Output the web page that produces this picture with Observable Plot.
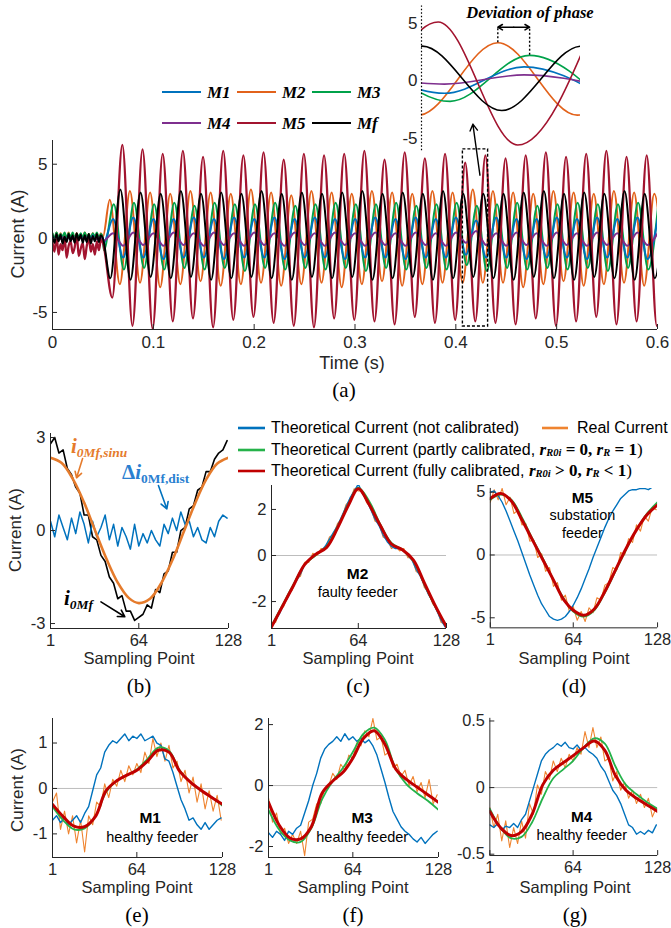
<!DOCTYPE html>
<html lang="en">
<head>
<meta charset="utf-8">
<title>Zero-sequence current waveforms</title>
<script src="https://cdn.jsdelivr.net/npm/d3@7"></script>
<script src="https://cdn.jsdelivr.net/npm/@observablehq/plot@0.6"></script>
<style>
  html, body { margin: 0; padding: 0; background: #fff; }
  #fig { position: relative; width: 671px; height: 928px; overflow: hidden; background: #fff;
         font-family: "Liberation Sans", Arial, Helvetica, sans-serif; color: #262626; }
  .abs { position: absolute; white-space: nowrap; line-height: 1; }
  .c { transform: translate(-50%, -50%); }
  .l { transform: translate(0, -50%); }
  .rot { transform: translate(-50%, -50%) rotate(-90deg); }
  .serif { font-family: "Liberation Serif", "Times New Roman", Times, serif; color: #000; }
  .bi { font-family: "Liberation Serif", "Times New Roman", Times, serif; font-weight: bold; font-style: italic; color: #000; }
  .sub { font-size: 0.64em; position: relative; top: 0.3em; }
  .math { font-family: "Liberation Serif", "Times New Roman", Times, serif; font-weight: bold; font-size: 17px; color: #000; line-height: 16px; }
  .math i { font-style: italic; }
  .msub { font-size: 0.62em; vertical-align: -0.15em; line-height: 10px; }
  .paren { font-family: "Liberation Serif", "Times New Roman", Times, serif; font-size: 17px; color: #000; line-height: 16px; }
</style>
</head>
<body>
<div id="fig"></div>
<script>
// ---------------------------------------------------------------------------
// (a) zero-sequence currents of the feeders, 0 – 0.6 s
// ---------------------------------------------------------------------------
const seriesNames = ["M1", "M2", "M3", "M4", "M5", "Mf"];
const seriesColors = ["#0072BD", "#E2621B", "#00A24A", "#7E2F8E", "#A2142F", "#000000"];
const timeTicks = [0, 0.1, 0.2, 0.3, 0.4, 0.5, 0.6];
const currentTicks = [-5, 0, 5];

// pre-fault samples, every 2 ms from 0 to 0.05 s
const preStep = 0.002;
const preM1 = [0.1, -0.2, 0.2, -0.1, 0.15, -0.2, 0.1, -0.15, 0.2, -0.1, 0.1, -0.2, 0.15, -0.1, 0.2, -0.15, 0.1, -0.2, 0.15, -0.1, 0.2, -0.15, 0.1, -0.2, 0.15, 0.0];
const preM2 = [0.3, -0.1, 0.4, 0.0, 0.35, -0.1, 0.3, 0.05, 0.4, -0.05, 0.3, 0.0, 0.35, -0.1, 0.3, 0.05, 0.4, 0.0, 0.3, -0.05, 0.35, 0.0, 0.3, -0.1, 0.35, 0.1];
const preM3 = [0.35, 0.0, 0.4, 0.05, 0.3, 0.1, 0.4, 0.0, 0.35, 0.05, 0.4, 0.0, 0.3, 0.1, 0.35, 0.0, 0.4, 0.05, 0.3, 0.0, 0.35, 0.1, 0.4, 0.0, 0.3, 0.0];
const preM4 = [0.0, -0.05, 0.05, 0.0, -0.05, 0.05, 0.0, -0.05, 0.05, 0.0, -0.05, 0.05, 0.0, -0.05, 0.05, 0.0, -0.05, 0.05, 0.0, -0.05, 0.05, 0.0, -0.05, 0.05, 0.0, 0.0];
const preM5 = [-0.3, -0.9, 0.2, -1.1, -0.4, -0.8, 0.1, -1.3, -0.5, -0.2, -1.0, -0.6, 0.3, -1.2, -0.7, -0.3, -1.4, -0.5, 0.0, -0.9, -0.4, -1.1, -0.2, -0.8, -0.1, -0.3];
const preMf = [0.2, -0.3, 0.3, -0.2, 0.25, -0.35, 0.1, -0.25, 0.3, -0.2, 0.2, -0.3, 0.35, -0.15, 0.25, -0.3, 0.2, -0.25, 0.3, -0.35, 0.15, -0.2, 0.3, -0.25, 0.2, 0.0];

// post-fault: successive peaks and troughs (half a 50 Hz cycle apart)
const halfPeriod = 0.01;
const firstExtremum = [0.0501, 0.0568, 0.0508, 0.0501, 0.0593, 0.0573];
const extM1 = [
  -0.4, 1.3, -1.3, 1.4, -1.3, 1.3, -1.4, 1.3, -1.3, 1.4,
  -1.3, 1.3, -1.4, 1.4, -1.3, 1.3, -1.3, 1.4, -1.4, 1.3,
  -1.3, 1.4, -1.3, 1.3, -1.4, 1.3, -1.3, 1.4, -1.3, 1.3,
  -1.4, 1.4, -1.3, 1.3, -1.3, 1.4, -1.1, 1.2, -1.3, 1.4,
  -1.3, 1.3, -1.4, 1.3, -1.3, 1.4, -1.3, 1.3, -1.4, 1.4,
  -1.3, 1.3, -1.3, 1.4, -1.4, 1.3];
const extM2 = [
  2.6, -3.1, 3.2, -3.0, 3.1, -3.3, 3.0, -3.1, 3.2, -2.9,
  3.1, -3.2, 3.0, -3.1, 3.3, -3.0, 3.1, -3.2, 2.9, -3.1,
  3.2, -3.0, 3.1, -3.3, 3.0, -3.1, 3.2, -2.9, 3.1, -3.2,
  3.0, -3.1, 3.2, -3.0, 3.1, -3.0, 3.3, -3.0, 3.2, -3.0,
  3.1, -3.3, 3.0, -3.1, 3.2, -2.9, 3.1, -3.2, 3.0, -3.1,
  3.2, -3.0, 3.1, -3.2, 3.0, -3.1];
const extM3 = [
  -0.8, 2.3, -2.1, 2.4, -2.0, 2.3, -2.1, 2.4, -2.0, 2.2,
  -2.1, 2.4, -2.0, 2.3, -2.2, 2.3, -2.0, 2.4, -2.1, 2.2,
  -2.0, 2.3, -2.1, 2.4, -2.0, 2.3, -2.2, 2.3, -2.0, 2.4,
  -2.1, 2.2, -2.0, 2.3, -2.1, 2.4, -1.8, 2.2, -2.2, 2.3,
  -2.0, 2.4, -2.1, 2.2, -2.0, 2.3, -2.1, 2.4, -2.0, 2.3,
  -2.2, 2.3, -2.0, 2.4, -2.1, 2.3];
const extM4 = [
  -0.2, 0.35, -0.5, 0.4, -0.45, 0.35, -0.5, 0.4, -0.45, 0.35,
  -0.5, 0.4, -0.45, 0.35, -0.5, 0.4, -0.45, 0.35, -0.5, 0.4,
  -0.45, 0.35, -0.5, 0.4, -0.45, 0.35, -0.5, 0.4, -0.45, 0.35,
  -0.5, 0.4, -0.45, 0.35, -0.5, 0.4, -0.3, 0.5, -0.45, 0.35,
  -0.5, 0.4, -0.45, 0.35, -0.5, 0.4, -0.45, 0.35, -0.5, 0.4,
  -0.45, 0.35, -0.5, 0.4, -0.45, 0.35];
const extM5 = [
  -4.0, 6.3, -5.9, 6.0, -6.1, 5.7, -5.6, 5.9, -5.4, 5.5,
  -6.0, 5.9, -5.5, 5.6, -5.3, 5.8, -5.7, 5.3, -5.9, 5.7,
  -6.0, 5.6, -5.4, 5.7, -5.5, 5.9, -5.6, 5.3, -5.8, 5.8,
  -5.3, 5.4, -5.7, 5.7, -5.5, 5.1, -5.6, 5.6, -5.7, 5.4,
  -5.8, 5.6, -5.4, 5.8, -5.9, 5.5, -5.6, 5.7, -5.3, 5.9,
  -5.8, 5.5, -5.6, 5.6, -5.9, 5.4];
const extMf = [
  -2.7, 3.3, -2.8, 3.1, -2.6, 3.0, -2.7, 3.2, -2.6, 3.0,
  -2.8, 3.1, -2.7, 3.0, -2.6, 3.2, -2.7, 3.0, -2.8, 3.1,
  -2.6, 3.0, -2.7, 3.1, -2.6, 3.2, -2.8, 3.0, -2.7, 3.1,
  -2.6, 3.0, -2.8, 3.2, -2.7, 3.0, -2.6, 3.0, -2.7, 3.0,
  -2.8, 3.1, -2.6, 3.2, -2.7, 3.0, -2.8, 3.1, -2.6, 3.0,
  -2.7, 3.2, -2.8, 3.0, -2.7, 3.1];

// zoomed window shown in the inset, and the phase-shift pair marked there
const zoomWindow = [0.407, 0.432];
const insetWindow = [0.4072, 0.4272];

// ---------------------------------------------------------------------------
// (b)–(g) one cycle, 128 sampling points
// ---------------------------------------------------------------------------
const sampleTicks = [1, 64, 128];
const sampleCoarse = [1, 9, 17, 25, 33, 41, 49, 57, 64, 72, 80, 88, 96, 104, 112, 120, 128];

// (b) faulty-feeder current, its sinusoidal part and the distortion
const bTotal = [2.8, 3.0, 2.5, 2.6, 2.0, 1.8, 1.4, 1.2, 0.5, 0.5,
  -0.2, -0.3, -0.8, -1.0, -1.5, -1.7, -2.2, -2.1, -2.6, -2.6,
  -2.9, -2.8, -2.7, -2.4, -2.5, -1.9, -2.0, -1.4, -1.3, -0.7,
  -0.7, 0.0, 0.1, 0.7, 0.8, 1.3, 1.4, 1.9, 1.9, 2.3,
  2.5, 2.6, 2.9];
const bSinu = [2.35, 2.18, 1.66, 0.9, -0.02, -0.92, -1.68, -2.18, -2.34, -2.2, -1.7, -0.95, -0.05, 0.86, 1.64, 2.16, 2.35];
const bDist = [0.3, -0.2, 0.5, 0.1, -0.3, 0.4, -0.1, 0.6, 0.2, -0.4,
  0.3, -0.2, 0.1, 0.5, -0.3, 0.2, -0.5, 0.1, -0.2, -0.6,
  0.2, -0.5, -0.1, -0.4, 0.0, -0.3, -0.5, 0.2, -0.1, 0.4,
  0.0, 0.6, 0.2, 0.3, -0.2, 0.1, -0.3, -0.4, 0.1, -0.2,
  0.3, 0.5, 0.4];

// (c) M2, faulty feeder
const cNotCal = [-3.1, -2.8, -2.5, -2.1, -1.8, -1.4, -1.1, -0.8, -0.4, -0.2,
  0.0, 0.1, 0.2, 0.4, 0.7, 1.0, 1.3, 1.7, 2.1, 2.5,
  2.8, 3.1, 2.7, 2.4, 2.0, 1.6, 1.3, 0.9, 0.6, 0.4,
  0.3, 0.3, 0.2, 0.0, -0.2, -0.6, -0.9, -1.3, -1.7, -2.0,
  -2.4, -2.8, -3.1];
const cReal = [-3.0, -2.9, -2.4, -2.2, -1.7, -1.5, -1.0, -0.9, -0.3, -0.3,
  0.1, 0.0, 0.3, 0.3, 0.8, 0.9, 1.4, 1.6, 2.2, 2.4,
  2.9, 2.8, 2.8, 2.3, 2.1, 1.5, 1.4, 0.8, 0.7, 0.3,
  0.4, 0.2, 0.3, -0.1, -0.1, -0.7, -0.8, -1.4, -1.6, -2.1,
  -2.3, -2.9, -3.0];
const cPartly = [-3.05, -2.15, -1.25, -0.4, 0.0, 0.4, 1.25, 2.25, 2.95, 2.35, 1.35, 0.55, 0.25, -0.25, -1.25, -2.25, -3.05];
const cFully = [-3.1, -2.2, -1.3, -0.4, 0.05, 0.35, 1.2, 2.2, 2.9, 2.2, 1.3, 0.5, 0.25, -0.2, -1.2, -2.2, -3.1];

// (d) M5, substation feeder
const dNotCal = [5.0, 5.1, 4.7, 4.2, 3.5, 2.7, 1.9, 1.1, 0.2, -0.7,
  -1.6, -2.4, -3.2, -3.9, -4.4, -4.9, -5.1, -5.2, -5.1, -4.9,
  -4.5, -4.0, -3.4, -2.7, -1.9, -1.1, -0.2, 0.6, 1.4, 2.2,
  2.9, 3.5, 4.0, 4.5, 4.8, 5.1, 5.2, 5.2, 5.3, 5.3,
  5.2, 5.4, 5.5];
const dReal = [4.2, 5.2, 4.4, 5.3, 4.0, 4.6, 3.3, 3.6, 2.4, 2.5,
  1.1, 1.2, -0.2, 0.1, -1.3, -1.0, -2.5, -2.2, -3.6, -3.2,
  -4.5, -4.1, -5.2, -4.5, -5.3, -4.2, -4.6, -3.4, -3.6, -2.4,
  -2.2, -1.0, -1.2, 0.2, 0.0, 1.3, 1.0, 2.4, 1.9, 3.1,
  2.7, 3.8, 3.6];
const dPartly = [4.4, 4.8, 4.4, 3.0, 1.3, -0.3, -2.0, -3.5, -4.5, -4.9, -4.4, -3.0, -1.3, 0.4, 2.0, 3.3, 4.2];
const dFully = [4.5, 4.9, 4.3, 2.8, 1.2, -0.4, -2.0, -3.6, -4.4, -4.8, -4.3, -2.9, -1.2, 0.5, 2.0, 3.2, 4.0];

// (e) M1, healthy feeder
const eNotCal = [-0.7, -0.6, -0.75, -0.65, -0.8, -0.7, -0.6, -0.75, -0.55, -0.4,
  -0.05, 0.3, 0.45, 0.8, 0.95, 1.05, 1.0, 1.1, 1.2, 1.05,
  1.15, 1.1, 1.2, 1.05, 1.1, 1.15, 1.0, 0.95, 0.65, 0.6,
  0.35, 0.05, -0.25, -0.45, -0.7, -0.65, -0.8, -0.9, -0.75, -0.9,
  -0.8, -0.7, -0.65];
const eReal = [-0.3, -0.1, -0.9, -0.5, -1.0, -0.6, -1.2, -0.7, -1.4, -0.6,
  -0.8, -0.3, -0.4, 0.1, -0.2, 0.2, 0.05, 0.4, 0.15, 0.5,
  0.3, 0.55, 0.35, 0.8, 0.55, 1.1, 0.7, 1.0, 0.6, 0.95,
  0.45, 0.6, 0.15, 0.4, -0.1, 0.25, -0.3, 0.1, -0.45, -0.05,
  -0.5, -0.15, -0.7];
const ePartly = [-0.4, -0.7, -0.9, -0.88, -0.62, -0.08, 0.17, 0.3, 0.42, 0.65, 0.9, 0.83, 0.4, 0.14, -0.05, -0.2, -0.38];
const eFully = [-0.35, -0.62, -0.83, -0.84, -0.62, -0.05, 0.17, 0.3, 0.4, 0.6, 0.84, 0.8, 0.38, 0.14, -0.04, -0.2, -0.35];

// (f) M3, healthy feeder
const fNotCal = [-1.55, -1.7, -1.5, -1.6, -1.8, -1.5, -1.6, -1.4, -1.3, -0.9,
  -0.5, 0.0, 0.4, 0.9, 1.2, 1.35, 1.45, 1.6, 1.45, 1.7,
  1.5, 1.6, 1.45, 1.55, 1.4, 1.5, 1.3, 1.0, 0.55, 0.1,
  -0.4, -0.85, -1.1, -1.35, -1.5, -1.6, -1.75, -1.85, -1.7, -1.9,
  -1.75, -1.6, -1.5];
const fReal = [-0.4, -1.2, -0.9, -1.6, -1.4, -1.9, -1.6, -1.9, -1.5, -2.3,
  -1.2, -1.1, -0.6, -0.6, -0.1, 0.0, 0.4, 0.2, 0.7, 0.5,
  1.0, 0.9, 1.4, 1.3, 1.8, 1.6, 2.2, 1.5, 1.6, 1.0,
  1.1, 0.6, 0.7, 0.3, 0.5, 0.0, 0.3, -0.2, 0.1, -0.4,
  0.2, -0.6, -0.3];
const fPartly = [-0.8, -1.45, -1.8, -1.85, -1.4, -0.45, 0.15, 0.6, 1.1, 1.7, 1.9, 1.5, 0.55, 0.05, -0.25, -0.5, -0.8];
const fFully = [-0.55, -1.3, -1.72, -1.75, -1.35, -0.25, 0.15, 0.45, 0.9, 1.55, 1.8, 1.35, 0.55, 0.2, -0.05, -0.3, -0.55];

// (g) M4, healthy feeder
const gNotCal = [-0.28, -0.3, -0.27, -0.32, -0.29, -0.3, -0.27, -0.3, -0.24, -0.2,
  -0.1, 0.0, 0.1, 0.2, 0.25, 0.28, 0.3, 0.33, 0.31, 0.34,
  0.3, 0.29, 0.32, 0.28, 0.3, 0.27, 0.25, 0.22, 0.16, 0.12,
  0.05, -0.02, -0.06, -0.12, -0.2, -0.28, -0.3, -0.35, -0.33, -0.35,
  -0.32, -0.34, -0.28];
const gReal = [-0.15, -0.3, -0.2, -0.4, -0.25, -0.45, -0.3, -0.42, -0.25, -0.38,
  -0.12, -0.2, 0.02, -0.05, 0.12, 0.06, 0.2, 0.12, 0.22, 0.15,
  0.25, 0.2, 0.3, 0.25, 0.42, 0.3, 0.45, 0.3, 0.38, 0.2,
  0.22, 0.05, 0.12, -0.02, 0.04, -0.08, -0.02, -0.12, -0.05, -0.15,
  -0.08, -0.22, -0.15];
const gPartly = [-0.16, -0.3, -0.38, -0.37, -0.26, -0.08, 0.07, 0.14, 0.2, 0.3, 0.37, 0.33, 0.16, 0.02, -0.05, -0.11, -0.16];
const gFully = [-0.18, -0.3, -0.36, -0.33, -0.2, 0.02, 0.13, 0.19, 0.24, 0.3, 0.35, 0.28, 0.09, -0.02, -0.08, -0.13, -0.18];

// ---------------------------------------------------------------------------
const fig = document.getElementById("fig");
const AX = "#262626";
const SANS = "Liberation Sans, Arial, Helvetica, sans-serif";
const C_BLUE = "#0072BD", C_ORANGE = "#EF8430", C_GREEN = "#25B24A", C_RED = "#C00000";

function place(node, left, top) {
  const holder = document.createElement("div");
  holder.className = "abs";
  holder.style.left = left + "px";
  holder.style.top = top + "px";
  holder.appendChild(node);
  fig.appendChild(holder);
}
function text(html, x, y, cls, css = {}) {
  const el = document.createElement("div");
  el.className = "abs " + cls;
  el.style.left = x + "px";
  el.style.top = y + "px";
  Object.assign(el.style, css);
  el.innerHTML = html;
  fig.appendChild(el);
  return el;
}
function swatch(x1, x2, y, color, w) {
  const ns = "http://www.w3.org/2000/svg";
  const s = document.createElementNS(ns, "svg");
  s.setAttribute("width", x2 - x1);
  s.setAttribute("height", 8);
  Object.assign(s.style, {position: "absolute", left: x1 + "px", top: (y - 4) + "px"});
  const ln = document.createElementNS(ns, "line");
  ln.setAttribute("x1", 0); ln.setAttribute("x2", x2 - x1);
  ln.setAttribute("y1", 4); ln.setAttribute("y2", 4);
  ln.setAttribute("stroke", color); ln.setAttribute("stroke-width", w);
  s.appendChild(ln);
  fig.appendChild(s);
}
// MATLAB-like axes: left and bottom lines with inward ticks
function axesMarks({xTicks, yTicks, xMin, yMin, fw, fh, fontSize, padX = 6, padY = 5}) {
  return [
    Plot.ruleX([xMin], {stroke: AX, strokeWidth: 1}),
    Plot.ruleY([yMin], {stroke: AX, strokeWidth: 1}),
    Plot.tickX(xTicks, {x: d => d, stroke: AX, insetTop: fh - 5}),
    Plot.tickY(yTicks, {y: d => d, stroke: AX, insetRight: fw - 5}),
    Plot.axisX(xTicks, {tickSize: 0, tickPadding: padX, tickFormat: d => String(d), label: null, fontSize}),
    Plot.axisY(yTicks, {tickSize: 0, tickPadding: padY, tickFormat: d => String(d), label: null, fontSize})
  ];
}
const plotStyle = {background: "transparent", overflow: "visible", fontFamily: SANS, color: AX};

// ---- (a) main time plot ----------------------------------------------------
const preFault = [preM1, preM2, preM3, preM4, preM5, preMf];
const extrema = [extM1, extM2, extM3, extM4, extM5, extMf];
const waves = {};
seriesNames.forEach((name, k) => {
  const rows = preFault[k].map((v, i) => ({t: i * preStep, v}));
  extrema[k].forEach((v, i) => rows.push({t: firstExtremum[k] + i * halfPeriod, v}));
  waves[name] = {rows, color: seriesColors[k]};
});
const drawOrder = ["M2", "M3", "M1", "M4", "M5", "Mf"];

{
  const x0 = 52, x1 = 657, y0 = 140, y1 = 329;
  const yDom = [-6.15, 6.6];
  const W = 671, H = 360;
  const svg = Plot.plot({
    width: W, height: H,
    marginLeft: x0, marginRight: W - x1, marginTop: y0, marginBottom: H - y1,
    x: {domain: [0, 0.6]}, y: {domain: yDom},
    style: plotStyle,
    marks: [
      ...drawOrder.map(n => Plot.line(waves[n].rows, {
        x: "t", y: "v", stroke: waves[n].color, strokeWidth: n === "M5" ? 2.3 : 2,
        curve: "monotone-x", clip: true
      })),
      ...axesMarks({xTicks: timeTicks, yTicks: currentTicks, xMin: 0, yMin: yDom[0],
        fw: x1 - x0, fh: y1 - y0, fontSize: 17, padX: 6, padY: 5}),
      Plot.rect([{t1: zoomWindow[0], t2: zoomWindow[1], v1: -5.95, v2: 6.0}], {
        x1: "t1", x2: "t2", y1: "v1", y2: "v2", fill: "none", stroke: "#000",
        strokeWidth: 1.4, strokeDasharray: "3,2"
      }),
      Plot.arrow([{ta: 0.4239, va: 4.26, tb: 0.4169, vb: 7.7}], {
        x1: "ta", y1: "va", x2: "tb", y2: "vb", stroke: "#000", strokeWidth: 1.4, headLength: 8
      })
    ]
  });
  place(svg, 0, 0);
}

// ---- (a) inset: one cycle of the zoomed window ----------------------------
{
  const x0 = 421, x1 = 580, y0 = 10, y1 = 150.3;
  const yDom = [-6.1, 6.1];
  const W = 671, H = 160;
  const inWin = r => r.t > insetWindow[0] - 0.012 && r.t < insetWindow[1] + 0.012;
  const orangePeak = waves.M2.rows.filter(r => r.t > insetWindow[0] && r.t < insetWindow[1] && r.v > 0)[0];
  const greenPeak = waves.M3.rows.filter(r => r.t > insetWindow[0] && r.t < insetWindow[1] && r.v > 0)[0];
  const arrowV = 4.65;
  const mid = (orangePeak.t + greenPeak.t) / 2;
  const svg = Plot.plot({
    width: W, height: H,
    marginLeft: x0, marginRight: W - x1, marginTop: y0, marginBottom: H - y1,
    x: {domain: insetWindow, axis: null}, y: {domain: yDom},
    style: plotStyle,
    marks: [
      ...drawOrder.map(n => Plot.line(waves[n].rows.filter(inWin), {
        x: "t", y: "v", stroke: waves[n].color, strokeWidth: 1.6, curve: "monotone-x", clip: true
      })),
      Plot.ruleX([insetWindow[0]], {stroke: "#000", strokeWidth: 1.2, strokeDasharray: "1.5,2", y1: -6.1, y2: 6.5}),
      Plot.axisY(currentTicks, {tickSize: 0, tickPadding: 4, tickFormat: d => String(d), label: null, fontSize: 17}),
      Plot.ruleX([orangePeak, greenPeak], {x: "t", y1: "v", y2: arrowV, stroke: "#000", strokeWidth: 1.4, strokeDasharray: "2,2"}),
      Plot.arrow([{a: mid, b: orangePeak.t}, {a: mid, b: greenPeak.t}], {
        x1: "a", x2: "b", y1: arrowV, y2: arrowV, stroke: "#000", strokeWidth: 1.6, headLength: 6
      })
    ]
  });
  place(svg, 0, 0);
}

// ---- (a) text ---------------------------------------------------------------
text("Deviation of phase", 530, 13, "bi c", {fontSize: "16.5px"});
text("Current (A)", 18, 234, "rot", {fontSize: "18px"});
text("Time (s)", 352, 363, "c", {fontSize: "18px"});
text("(a)", 344, 390, "serif c", {fontSize: "21px"});
{
  const rowsY = [92, 123];
  const colX = [162, 237, 312];
  seriesNames.forEach((name, k) => {
    const x = colX[k % 3], y = rowsY[Math.floor(k / 3)];
    swatch(x, x + 39, y, seriesColors[k], 2.2);
    text(name, x + 45, y, "bi l", {fontSize: "17px"});
  });
}

// ---- (b)–(g) one-cycle panels ------------------------------------------------
const sampleFine = d3.range(1, 128, 3);
function samplePanel(p) {
  const mL = 50, mR = 14, mT = 14, mB = 30;
  const [x0, x1, y0, y1] = p.frame;
  const fw = x1 - x0, fh = y1 - y0;
  const marks = [];
  if (p.zero) marks.push(Plot.ruleY([0], {stroke: "#BDBDBD", strokeWidth: 1}));
  for (const l of p.lines) {
    const rows = l.values.map((v, i) => ({s: l.xs[i], v}));
    marks.push(Plot.line(rows, {x: "s", y: "v", stroke: l.color, strokeWidth: l.w,
      curve: l.curve || "linear", clip: true}));
  }
  marks.push(...axesMarks({xTicks: sampleTicks, yTicks: p.yTicks, xMin: 1, yMin: p.yDomain[0],
    fw, fh, fontSize: 16.5, padX: 6, padY: 5}));
  for (const n of (p.notes || [])) {
    marks.push(Plot.text([n], {x: "s", y: "v", text: "label", fill: "#000",
      fontSize: n.size, fontWeight: n.weight || "normal"}));
  }
  for (const a of (p.arrows || [])) {
    marks.push(Plot.arrow([a], {x1: "s1", y1: "v1", x2: "s2", y2: "v2", stroke: a.color,
      strokeWidth: 1.6, headLength: 7}));
  }
  const svg = Plot.plot({
    width: fw + mL + mR, height: fh + mT + mB,
    marginLeft: mL, marginRight: mR, marginTop: mT, marginBottom: mB,
    x: {domain: [1, 128]}, y: {domain: p.yDomain},
    style: plotStyle, marks
  });
  place(svg, x0 - mL, y0 - mT);
}
function calibrationLines(notCal, real, partly, fully) {
  return [
    {xs: sampleFine, values: real, color: C_ORANGE, w: 1.1},
    {xs: sampleFine, values: notCal, color: C_BLUE, w: 1.4},
    {xs: sampleCoarse, values: partly, color: C_GREEN, w: 1.8, curve: "catmull-rom"},
    {xs: sampleCoarse, values: fully, color: C_RED, w: 3, curve: "catmull-rom"}
  ];
}

samplePanel({
  frame: [50, 228, 433, 628], yDomain: [-3.16, 3.13], yTicks: [-3, 0, 3],
  lines: [
    {xs: sampleFine, values: bTotal, color: "#000", w: 1.6},
    {xs: sampleFine, values: bDist, color: C_BLUE, w: 1.5},
    {xs: sampleCoarse, values: bSinu, color: "#E57B2C", w: 2.6, curve: "catmull-rom"}
  ],
  arrows: [
    {s1: 23.9, v1: 2.32, s2: 19.6, v2: 1.7, color: "#E57B2C"},
    {s1: 78, v1: 1.45, s2: 84, v2: 0.7, color: C_BLUE},
    {s1: 37, v1: -2.3, s2: 54, v2: -2.78, color: "#000"}
  ]
});
samplePanel({
  frame: [271, 446, 485, 628], yDomain: [-3.17, 3.04], yTicks: [-2, 0, 2], zero: true,
  lines: calibrationLines(cNotCal, cReal, cPartly, cFully),
  notes: [{s: 63.5, v: -0.8, label: "M2", size: 15.5, weight: "bold"},
          {s: 63.5, v: -1.6, label: "faulty feeder", size: 14.5}]
});
samplePanel({
  frame: [490, 658, 488, 628], yDomain: [-5.8, 5.3], yTicks: [-5, 0, 5], zero: true,
  lines: calibrationLines(dNotCal, dReal, dPartly, dFully),
  notes: [{s: 71, v: 4.55, label: "M5", size: 15.5, weight: "bold"},
          {s: 71, v: 3.15, label: "substation", size: 14.5},
          {s: 71, v: 1.75, label: "feeder", size: 14.5}]
});
samplePanel({
  frame: [52, 222, 718, 857], yDomain: [-1.52, 1.54], yTicks: [-1, 0, 1], zero: true,
  lines: calibrationLines(eNotCal, eReal, ePartly, eFully),
  notes: [{s: 74, v: -0.66, label: "M1", size: 15.5, weight: "bold"},
          {s: 75.5, v: -1.08, label: "healthy feeder", size: 14.5}]
});
samplePanel({
  frame: [268, 438, 718, 857], yDomain: [-2.36, 2.2], yTicks: [-2, 0, 2], zero: true,
  lines: calibrationLines(fNotCal, fReal, fPartly, fFully),
  notes: [{s: 71, v: -1.08, label: "M3", size: 15.5, weight: "bold"},
          {s: 71, v: -1.7, label: "healthy feeder", size: 14.5}]
});
samplePanel({
  frame: [490, 660, 718, 857], yDomain: [-0.51, 0.52], yTicks: [-0.5, 0, 0.5], zero: true,
  lines: calibrationLines(gNotCal, gReal, gPartly, gFully),
  notes: [{s: 70.5, v: -0.22, label: "M4", size: 15.5, weight: "bold"},
          {s: 70.5, v: -0.36, label: "healthy feeder", size: 14.5}]
});

// ---- (b)–(g) text -----------------------------------------------------------
text("Current (A)", 15, 530, "rot", {fontSize: "17px"});
text("Current (A)", 17, 790, "rot", {fontSize: "17px"});
[[139, 658, "(b)"], [358, 658, "(c)"], [574, 658, "(d)"],
 [137, 887, "(e)"], [353, 887, "(f)"], [575, 887, "(g)"]].forEach(([x, y, tag]) => {
  text("Sampling Point", x, y, "c", {fontSize: "16.5px"});
  text(tag, x, y + 28, "serif c", {fontSize: "21px"});
});
text('<i>i</i><span class="sub">0Mf,sinu</span>', 71, 446, "bi l", {fontSize: "21px", color: "#E57B2C"});
text('&Delta;<i>i</i><span class="sub">0Mf,dist</span>', 122, 472, "bi l", {fontSize: "21px", color: "#2A7FD0", fontStyle: "normal"});
text('<i>i</i><span class="sub">0Mf</span>', 64, 598, "bi l", {fontSize: "21px"});

// calibration legend
const legendRow = {fontSize: "16px", color: "#000", lineHeight: "16px"};
swatch(238, 265, 428, C_BLUE, 2.6);
text("Theoretical Current (not calibrated)", 271, 428, "l", legendRow);
swatch(542, 568, 428, C_ORANGE, 2.6);
text("Real Current", 577, 428, "l", legendRow);
swatch(238, 265, 450, C_GREEN, 2.6);
text('Theoretical Current (partly calibrated, <span class="math"><i>r</i><i class="msub">R0i</i> = 0, <i>r</i><i class="msub">R</i> = 1</span><span class="paren">)</span>',
  271, 450, "l", legendRow);
swatch(238, 265, 471, C_RED, 2.6);
text('Theoretical Current (fully calibrated, <span class="math"><i>r</i><i class="msub">R0i</i> &gt; 0, <i>r</i><i class="msub">R</i> &lt; 1</span><span class="paren">)</span>',
  271, 471, "l", legendRow);
</script>
</body>
</html>
